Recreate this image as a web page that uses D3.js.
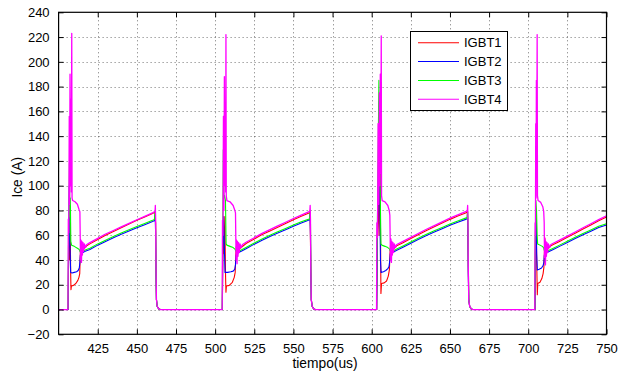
<!DOCTYPE html>
<html>
<head>
<meta charset="utf-8">
<script src="https://cdn.jsdelivr.net/npm/d3@7"></script>
<style>
  html, body { margin: 0; padding: 0; background: #fff; }
  svg { display: block; font-family: "Liberation Sans", Arial, sans-serif; }
</style>
</head>
<body>
<svg id="chart" width="627" height="377"></svg>
<script>
// Collector current of the four IGBTs over four switching cycles, [time (us), Ice (A)]
const igbt1 = [
  [400,0],[406.1,0],[406.4,45],[406.8,68],[407.1,40],[407.4,70],[407.7,30],[407.9,16],[408.2,19],[409.5,19.5],[411,21],[412.3,23.5],[413.0,26],[413.5,29],[413.8,42],[414.1,50],[414.4,44],[414.8,52],[415.2,47],[415.8,51],[416.5,49.5],[418,51.5],[420,53],[425,56.5],[430,60],[435,63],[440,66],[445,69],[450,72],[455,74.8],[460,77.6],[461.6,78.8],[461.8,72],[462.0,70],[462.2,35],[462.5,8],[463,2.5],[464,0.5],[465,0],
  [504.6,0],[504.9,40],[505.3,70],[505.7,45],[506.2,75],[506.6,30],[506.9,14],[507.2,19],[509,19.5],[511,22],[512.2,26],[512.8,30],[513.2,44],[513.5,51],[513.8,43],[514.2,53],[514.6,46],[515.2,51],[516,49.5],[518,51.5],[520,53.5],[525,57],[530,60.5],[535,63.5],[540,66.5],[545,69.5],[550,72.5],[555,75.3],[560,78],[560.5,79],[560.7,72],[561.1,35],[561.4,8],[562,2.5],[563,0.5],[564,0],
  [603.2,0],[603.6,60],[604.2,90],[604.7,60],[605.3,152],[605.6,70],[605.9,13],[606.3,21],[608,21.5],[609.5,23],[610.6,27],[611.3,32],[611.7,45],[612.0,52],[612.3,43],[612.7,54],[613.1,46],[613.7,51],[614.5,49.5],[616,51.5],[620,54],[625,57.3],[630,60.6],[635,63.8],[640,66.8],[645,69.8],[650,72.8],[655,75.5],[660,78],[661.1,79],[661.3,72],[661.7,35],[662,8],[662.6,2.5],[663.6,0.5],[664.6,0],
  [704.3,0],[704.6,55],[705.0,80],[705.4,40],[705.8,12],[706.1,21],[707.5,22],[708.7,25],[709.5,29],[710.0,34],[710.3,45],[710.6,58],[710.9,42],[711.3,53],[711.7,46],[712.3,51],[713,49.5],[714.5,51.5],[716,52.5],[720,55],[725,58.3],[730,61.6],[735,65],[740,68.3],[745,71.6],[750,74.7]
];

const igbt2 = [
  [400,0],[406.1,0],[406.4,48],[406.8,100],[407.1,60],[407.4,45],[407.7,30],[408.5,29.5],[410,30],[411.5,30.5],[412.5,31.5],[413.2,33.5],[413.6,38],[413.9,44],[414.5,45],[415.5,46],[417,47],[420,48.5],[425,52],[430,55],[435,58],[440,60.7],[445,63.4],[450,66],[455,68.5],[460,71],[461.4,71.8],[461.7,76],[462.0,60],[462.2,30],[462.5,8],[463,2.5],[464,0.5],[465,0],
  [504.6,0],[504.9,50],[505.4,75],[505.8,55],[506.3,30],[508,30],[510,30.5],[511.5,31],[512.5,32.5],[513.0,36],[513.4,44],[514,45],[515,46],[517,47.3],[520,49.3],[525,52.8],[530,56],[535,59],[540,61.8],[545,64.5],[550,67.2],[555,69.8],[560,72.3],[560.4,72.8],[560.6,77],[560.9,60],[561.1,30],[561.4,8],[562,2.5],[563,0.5],[564,0],
  [603.2,0],[603.6,50],[604.2,100],[604.8,168],[605.2,90],[605.6,40],[606.0,30],[607.5,30.5],[609,31.5],[610.3,33],[611.1,35],[611.6,40],[611.9,45],[612.5,45.5],[614,46.5],[616,47.8],[620,50.3],[625,53.6],[630,56.8],[635,59.8],[640,62.6],[645,65.3],[650,68],[655,70.5],[660,72.8],[661.0,73.3],[661.2,77],[661.5,60],[661.7,30],[662,8],[662.6,2.5],[663.6,0.5],[664.6,0],
  [704.3,0],[704.6,45],[705.0,75],[705.4,45],[705.8,32],[707,32.5],[708.5,33.5],[709.5,35.5],[710.0,38],[710.3,44],[710.8,45],[712,46],[714,47.3],[716,48.5],[720,51],[725,54.2],[730,57.3],[735,60.4],[740,63.3],[745,66.2],[750,68.3]
];

const igbt3 = [
  [400,0],[406.0,0],[406.3,50],[406.6,65],[406.9,118],[407.2,75],[407.5,90],[407.8,55],[408.3,52],[410,51],[412,49.5],[413.2,48.5],[413.6,47],[414.0,46],[414.5,46.3],[415.5,47],[417,48],[420,49.5],[425,53],[430,56],[435,59],[440,61.7],[445,64.4],[450,67],[455,69.5],[460,72],[461.2,72.8],[461.5,78],[461.8,79],[462.0,60],[462.2,30],[462.5,8],[463,2.5],[464,0.5],[465,0],
  [504.5,0],[504.8,50],[505.2,129],[505.6,90],[506.0,92],[506.6,88],[507.0,53],[507.5,52],[509.5,51],[511.5,50],[512.8,48.5],[513.3,47],[513.8,46.5],[515,47],[517,48.3],[520,50.3],[525,53.8],[530,57],[535,60],[540,62.8],[545,65.5],[550,68.2],[555,70.8],[560,73],[560.3,73.5],[560.5,78],[560.8,79],[561.0,60],[561.2,30],[561.4,8],[562,2.5],[563,0.5],[564,0],
  [603.1,0],[603.5,55],[604.0,110],[604.6,185],[605.1,120],[605.5,90],[605.9,53],[606.5,52],[608.5,51],[610.3,50],[611.3,49],[611.8,47.5],[612.3,46.5],[613.5,47],[616,48.8],[620,51.3],[625,54.6],[630,57.8],[635,60.8],[640,63.6],[645,66.3],[650,69],[655,71.5],[660,73.8],[661.0,74.2],[661.2,78],[661.4,79],[661.6,60],[661.8,30],[662.1,8],[662.6,2.5],[663.6,0.5],[664.6,0],
  [704.2,0],[704.5,60],[704.9,88],[705.3,80],[705.7,60],[706.0,53],[707.5,52],[709,51],[709.8,50],[710.2,48],[710.7,47],[712,47],[714,48.3],[716,49.5],[720,52],[725,55.2],[730,58.3],[735,61.4],[740,64.3],[745,67.2],[750,69.3]
];

const igbt4 = [
  [400,0],[406.0,0],[406.2,73],[406.5,62],[406.8,156],[407.0,85],[407.3,190],[407.6,100],[407.9,170],[408.1,95],[408.4,223],[408.6,90],[409.0,88],[410.5,87],[412.0,85],[413.0,81],[413.6,79],[413.8,60],[414.0,40],[414.3,56],[414.6,38],[414.9,55],[415.2,44],[415.6,54],[416.0,47],[416.5,53],[417.2,50],[418,52.5],[420,54],[425,57.5],[430,61],[435,63.8],[440,66.7],[445,69.6],[450,72.5],[455,75.2],[460,78],[461.6,79.3],[461.8,84],[462.0,72],[462.2,35],[462.5,8],[463,2.5],[464,0.5],[465,0],
  [504.5,0],[504.7,72],[505.0,60],[505.3,156],[505.6,80],[505.9,188],[506.2,100],[506.5,165],[506.7,95],[506.9,222],[507.1,92],[507.5,88],[509.5,87],[511.5,84],[512.6,80],[513.0,78],[513.2,58],[513.4,40],[513.7,56],[514.0,37],[514.3,55],[514.6,43],[515.0,54],[515.4,46],[515.9,53],[516.6,50],[517.5,52.5],[520,54.5],[525,58],[530,61.5],[535,64.5],[540,67.5],[545,70.5],[550,73.5],[555,76.3],[560,79],[560.5,79.8],[560.7,84],[560.9,72],[561.1,35],[561.4,8],[562,2.5],[563,0.5],[564,0],
  [603.1,0],[603.3,70],[603.7,58],[604.1,150],[604.5,85],[604.9,175],[605.2,100],[605.5,190],[605.8,110],[606.1,221],[606.3,92],[606.7,88],[608.5,87],[610.3,84],[611.2,80],[611.6,76],[611.8,58],[612.0,40],[612.3,57],[612.6,38],[612.9,55],[613.2,44],[613.6,54],[614.0,46],[614.5,53],[615.2,50],[616,52.5],[620,55],[625,58.3],[630,61.6],[635,64.8],[640,67.8],[645,70.8],[650,73.8],[655,76.5],[660,79],[661.1,80],[661.3,84],[661.5,72],[661.7,35],[662.0,8],[662.6,2.5],[663.6,0.5],[664.6,0],
  [704.2,0],[704.4,70],[704.6,60],[704.8,150],[705.0,90],[705.2,185],[705.4,110],[705.7,222],[705.9,92],[706.3,88],[708,86.5],[709.3,83],[709.9,79],[710.2,70],[710.4,42],[710.7,57],[711.0,36],[711.3,55],[711.6,43],[712.0,54],[712.4,46],[712.9,53],[713.6,50],[714.5,52.5],[716,53.5],[720,56],[725,59.3],[730,62.6],[735,66],[740,69.3],[745,72.6],[750,75.7]
];

const seriesNames = ["IGBT1", "IGBT2", "IGBT3", "IGBT4"];
const seriesColors = ["#ff0000", "#0000ff", "#00ff00", "#ff00ff"];
const seriesData = [igbt1, igbt2, igbt3, igbt4];

const xDomain = [400, 750];
const yDomain = [-20, 240];
const xTicks = [425, 450, 475, 500, 525, 550, 575, 600, 625, 650, 675, 700, 725, 750];
const yTicks = [-20, 0, 20, 40, 60, 80, 100, 120, 140, 160, 180, 200, 220, 240];
const xLabel = "tiempo(us)";
const yLabel = "Ice (A)";

const svg = d3.select("#chart");
const box = { left: 58.6, right: 606.5, top: 12.3, bottom: 334.3 };

const x = d3.scaleLinear().domain(xDomain).range([box.left, box.right]);
const y = d3.scaleLinear().domain(yDomain).range([box.bottom, box.top]);

svg.append("rect").attr("width", 627).attr("height", 377).attr("fill", "#fff");

// dotted grid
const grid = svg.append("g")
  .attr("stroke", "#000")
  .attr("stroke-opacity", 0.55)
  .attr("stroke-width", 1)
  .attr("stroke-dasharray", "1 3");
grid.selectAll("line.gx")
  .data(xTicks.filter(t => t > xDomain[0] && t < xDomain[1]))
  .join("line")
  .attr("x1", d => Math.round(x(d)) + 0.5).attr("x2", d => Math.round(x(d)) + 0.5)
  .attr("y1", box.top).attr("y2", box.bottom);
grid.selectAll("line.gy")
  .data(yTicks.filter(t => t > yDomain[0] && t < yDomain[1]))
  .join("line")
  .attr("x1", box.left).attr("x2", box.right)
  .attr("y1", d => Math.round(y(d)) + 0.5).attr("y2", d => Math.round(y(d)) + 0.5);

// data lines
const clip = svg.append("clipPath").attr("id", "plotclip")
  .append("rect")
  .attr("x", box.left).attr("y", box.top)
  .attr("width", box.right - box.left).attr("height", box.bottom - box.top);

const line = d3.line().x(d => x(d[0])).y(d => y(d[1]));
const lines = svg.append("g").attr("clip-path", "url(#plotclip)");
seriesData.forEach((data, i) => {
  lines.append("path")
    .datum(data)
    .attr("fill", "none")
    .attr("stroke", seriesColors[i])
    .attr("stroke-width", i === 3 ? 1.3 : 1.1)
    .attr("stroke-linejoin", "round")
    .attr("d", line);
});

// axes with inward ticks on all four sides
const tickLen = 5;
const fontSize = "13px";
const axisStyle = g => {
  g.select(".domain").remove();
  g.selectAll(".tick line").attr("stroke", "#000").attr("stroke-width", 1);
  g.selectAll(".tick text").attr("fill", "#000").style("font-size", fontSize)
    .style("font-family", '"Liberation Sans", Arial, sans-serif');
};

svg.append("g")
  .attr("transform", `translate(0,${box.bottom})`)
  .call(d3.axisBottom(x).tickValues(xTicks).tickSizeInner(-tickLen).tickSizeOuter(0).tickPadding(9).tickFormat(d3.format("d")))
  .call(axisStyle);
svg.append("g")
  .attr("transform", `translate(0,${box.top})`)
  .call(d3.axisTop(x).tickValues(xTicks).tickSizeInner(-tickLen).tickSizeOuter(0).tickFormat(""))
  .call(axisStyle);
svg.append("g")
  .attr("transform", `translate(${box.left},0)`)
  .call(d3.axisLeft(y).tickValues(yTicks).tickSizeInner(-tickLen).tickSizeOuter(0).tickPadding(9).tickFormat(d3.format("d")))
  .call(axisStyle);
svg.append("g")
  .attr("transform", `translate(${box.right},0)`)
  .call(d3.axisRight(y).tickValues(yTicks).tickSizeInner(-tickLen).tickSizeOuter(0).tickFormat(""))
  .call(axisStyle);

// frame
svg.append("rect")
  .attr("x", box.left).attr("y", box.top)
  .attr("width", box.right - box.left).attr("height", box.bottom - box.top)
  .attr("fill", "none").attr("stroke", "#000").attr("stroke-width", 1.2);

// axis titles
svg.append("text")
  .attr("x", 325).attr("y", 368)
  .attr("text-anchor", "middle")
  .style("font-size", "13.8px")
  .text(xLabel);
svg.append("text")
  .attr("transform", `translate(22,${(box.top + box.bottom) / 2 + 4}) rotate(-90)`)
  .attr("text-anchor", "middle")
  .style("font-size", "13.8px")
  .text(yLabel);

// legend
const legend = svg.append("g");
legend.append("rect")
  .attr("x", 410.5).attr("y", 31.5).attr("width", 97).attr("height", 79)
  .attr("fill", "#fff").attr("stroke", "#000").attr("stroke-width", 1);
const rowY = d3.scalePoint().domain(seriesNames).range([42.7, 99.3]);
seriesNames.forEach((name, i) => {
  legend.append("line")
    .attr("x1", 418).attr("x2", 459)
    .attr("y1", rowY(name)).attr("y2", rowY(name))
    .attr("stroke", seriesColors[i]).attr("stroke-width", 1.1);
  legend.append("text")
    .attr("x", 464).attr("y", rowY(name))
    .attr("dy", "0.36em")
    .style("font-size", "13px")
    .text(name);
});
</script>
</body>
</html>
